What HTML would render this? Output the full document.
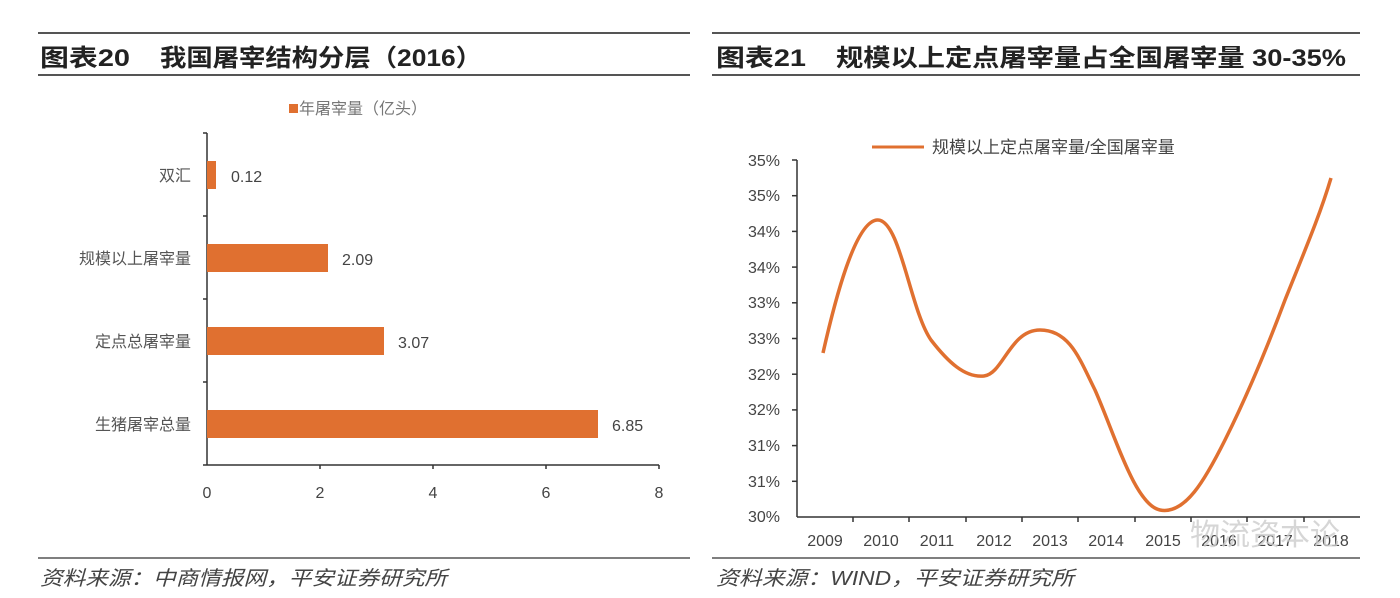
<!DOCTYPE html><html><head><meta charset="utf-8"><style>
body{margin:0;width:1400px;height:593px;background:#fff;overflow:hidden;font-family:"Liberation Sans","Noto Sans CJK SC",sans-serif}
</style></head><body>
<svg width="1400" height="593" viewBox="0 0 1400 593" xmlns="http://www.w3.org/2000/svg" font-family="Liberation Sans, Noto Sans CJK SC, sans-serif">
<line x1="38" y1="33" x2="690" y2="33" stroke="#555" stroke-width="2"/>
<line x1="38" y1="75" x2="690" y2="75" stroke="#555" stroke-width="2"/>
<text x="40" y="66" font-size="24" font-weight="bold" fill="#222" textLength="90" lengthAdjust="spacingAndGlyphs">图表20</text>
<text x="160" y="66" font-size="24" font-weight="bold" fill="#222" textLength="322" lengthAdjust="spacingAndGlyphs">我国屠宰结构分层（2016）</text>
<rect x="289" y="104" width="9" height="9" fill="#e07030"/>
<text x="299" y="114" font-size="16" fill="#777">年屠宰量（亿头）</text>
<line x1="207" y1="133" x2="207" y2="465" stroke="#333" stroke-width="1.5"/>
<g stroke="#333" stroke-width="1.5">
<line x1="203" y1="133" x2="207" y2="133"/><line x1="203" y1="216" x2="207" y2="216"/><line x1="203" y1="299" x2="207" y2="299"/><line x1="203" y1="382" x2="207" y2="382"/><line x1="203" y1="465" x2="207" y2="465"/>
<line x1="207" y1="465" x2="659" y2="465"/>
<line x1="320" y1="465" x2="320" y2="469"/><line x1="433" y1="465" x2="433" y2="469"/><line x1="546" y1="465" x2="546" y2="469"/><line x1="659" y1="465" x2="659" y2="469"/>
</g>
<g fill="#e07030">
<rect x="207" y="161" width="9" height="28"/>
<rect x="207" y="244" width="121" height="28"/>
<rect x="207" y="327" width="177" height="28"/>
<rect x="207" y="410" width="391" height="28"/>
</g>
<g font-size="16" fill="#444">
<text x="231" y="182">0.12</text><text x="342" y="265">2.09</text><text x="398" y="348">3.07</text><text x="612" y="431">6.85</text>
</g>
<g font-size="16" fill="#555" text-anchor="end">
<text x="191" y="181">双汇</text><text x="191" y="264">规模以上屠宰量</text><text x="191" y="347">定点总屠宰量</text><text x="191" y="430">生猪屠宰总量</text>
</g>
<g font-size="16" fill="#444" text-anchor="middle">
<text x="207" y="498">0</text><text x="320" y="498">2</text><text x="433" y="498">4</text><text x="546" y="498">6</text><text x="659" y="498">8</text>
</g>
<line x1="38" y1="558" x2="690" y2="558" stroke="#555" stroke-width="1.5"/>
<text x="40" y="585" font-size="20" font-style="italic" fill="#444" textLength="407" lengthAdjust="spacingAndGlyphs">资料来源：中商情报网，平安证券研究所</text>
<line x1="712" y1="33" x2="1360" y2="33" stroke="#555" stroke-width="2"/>
<line x1="712" y1="75" x2="1360" y2="75" stroke="#555" stroke-width="2"/>
<text x="716" y="66" font-size="24" font-weight="bold" fill="#222" textLength="90" lengthAdjust="spacingAndGlyphs">图表21</text>
<text x="836" y="66" font-size="24" font-weight="bold" fill="#222" textLength="510" lengthAdjust="spacingAndGlyphs">规模以上定点屠宰量占全国屠宰量 30-35%</text>
<line x1="872" y1="147" x2="924" y2="147" stroke="#e07030" stroke-width="3"/>
<text x="932" y="153" font-size="17" fill="#444">规模以上定点屠宰量/全国屠宰量</text>
<line x1="797" y1="160" x2="797" y2="517" stroke="#333" stroke-width="1.5"/>
<line x1="797" y1="517" x2="1360" y2="517" stroke="#333" stroke-width="1.5"/>
<g stroke="#333" stroke-width="1.5">
<line x1="792" y1="160" x2="797" y2="160"/><line x1="792" y1="195.7" x2="797" y2="195.7"/><line x1="792" y1="231.4" x2="797" y2="231.4"/><line x1="792" y1="267.1" x2="797" y2="267.1"/><line x1="792" y1="302.8" x2="797" y2="302.8"/><line x1="792" y1="338.5" x2="797" y2="338.5"/><line x1="792" y1="374.2" x2="797" y2="374.2"/><line x1="792" y1="409.9" x2="797" y2="409.9"/><line x1="792" y1="445.6" x2="797" y2="445.6"/><line x1="792" y1="481.3" x2="797" y2="481.3"/>
<line x1="853" y1="517" x2="853" y2="522"/><line x1="909" y1="517" x2="909" y2="522"/><line x1="966" y1="517" x2="966" y2="522"/><line x1="1022" y1="517" x2="1022" y2="522"/><line x1="1078" y1="517" x2="1078" y2="522"/><line x1="1135" y1="517" x2="1135" y2="522"/><line x1="1191" y1="517" x2="1191" y2="522"/><line x1="1247" y1="517" x2="1247" y2="522"/><line x1="1304" y1="517" x2="1304" y2="522"/>
</g>
<g font-size="16" fill="#444" text-anchor="end">
<text x="780" y="166">35%</text><text x="780" y="201">35%</text><text x="780" y="237">34%</text><text x="780" y="273">34%</text><text x="780" y="308">33%</text><text x="780" y="344">33%</text><text x="780" y="380">32%</text><text x="780" y="415">32%</text><text x="780" y="451">31%</text><text x="780" y="487">31%</text><text x="780" y="522">30%</text>
</g>
<g font-size="16" fill="#444" text-anchor="middle">
<text x="825" y="546">2009</text><text x="881" y="546">2010</text><text x="937" y="546">2011</text><text x="994" y="546">2012</text><text x="1050" y="546">2013</text><text x="1106" y="546">2014</text><text x="1163" y="546">2015</text><text x="1219" y="546">2016</text><text x="1275" y="546">2017</text><text x="1331" y="546">2018</text>
</g>
<path d="M823,353 C835,300 855,222 877,220 C900,218 910,310 931,340 C948,362 965,378 984,376 C1003,374 1010,330 1040,330 C1070,330 1080,360 1095,390 C1115,435 1135,505 1160,510 C1185,515 1205,480 1225,440 C1250,390 1270,340 1285,300 C1305,250 1320,215 1331,178" fill="none" stroke="#e07030" stroke-width="3.5"/>
<text x="1190" y="545" font-size="30" fill="#ccc" opacity="0.8">物流资本论</text>
<line x1="712" y1="558" x2="1360" y2="558" stroke="#555" stroke-width="1.5"/>
<text x="716" y="585" font-size="20" font-style="italic" fill="#444" textLength="358" lengthAdjust="spacingAndGlyphs">资料来源：WIND，平安证券研究所</text>
</svg>
</body></html>
